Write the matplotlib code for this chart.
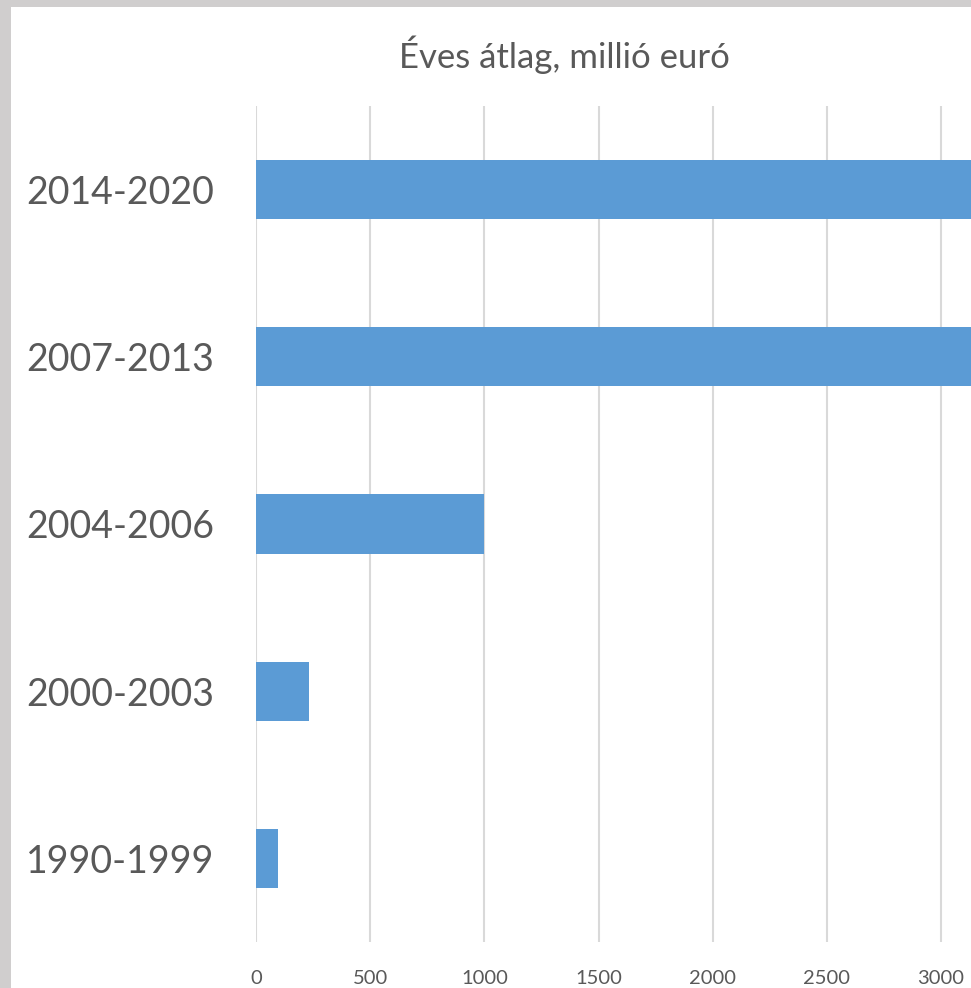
import matplotlib.pyplot as plt
from matplotlib.patches import Rectangle

# periods, bottom to top as drawn
periods = ['1990-1999', '2000-2003', '2004-2006', '2007-2013', '2014-2020']
# yearly average, million EUR (the two largest run past the visible edge)
values = [95, 232, 1000, 3400, 3400]
x_ticks = [0, 500, 1000, 1500, 2000, 2500, 3000]

BAR_COLOR = '#5b9bd5'
TEXT_COLOR = '#595959'
GRID_COLOR = '#d9d9d9'
FRAME_COLOR = '#d0cece'

plt.rcParams['font.family'] = ['Lato', 'DejaVu Sans']

W, H = 971, 988
fig = plt.figure(figsize=(W / 100, H / 100), dpi=100, facecolor=FRAME_COLOR)
# white chart area inside the grey frame (frame shows at left and top)
fig.patches.append(Rectangle((11 / W, 0), 1, (H - 7) / H, transform=fig.transFigure,
                             facecolor='white', edgecolor='none', zorder=-5))

# axes runs past the right edge of the picture, like the cropped original
left, bottom, top = 256, 942, 106
px_per_unit = (941 - 256) / 3000
xmax = 3500
ax = fig.add_axes([left / W, (H - bottom) / H, xmax * px_per_unit / W, (bottom - top) / H])
ax.set_facecolor('none')

ypos = list(range(len(periods)))
ax.barh(ypos, values, height=0.355, color=BAR_COLOR, zorder=3)

ax.set_xlim(0, xmax)
ax.set_ylim(-0.5, len(periods) - 0.5)
ax.set_xticks(x_ticks)
ax.set_xticklabels([str(t) for t in x_ticks], fontsize=14.5, color=TEXT_COLOR)
ax.set_yticks(ypos)
ax.set_yticklabels(periods, fontsize=27, color=TEXT_COLOR)
ax.tick_params(axis='x', length=0, pad=20)
ax.tick_params(axis='y', length=0, pad=30)
ax.xaxis.grid(True, color=GRID_COLOR, linewidth=1.5, zorder=0)
ax.yaxis.grid(False)
for s in ax.spines.values():
    s.set_visible(False)

fig.text(564 / W, 1 - 55 / H, 'Éves átlag, millió euró', ha='center', va='center',
         fontsize=25, color=TEXT_COLOR)

fig.savefig('out.png', dpi=100, facecolor=fig.get_facecolor())
